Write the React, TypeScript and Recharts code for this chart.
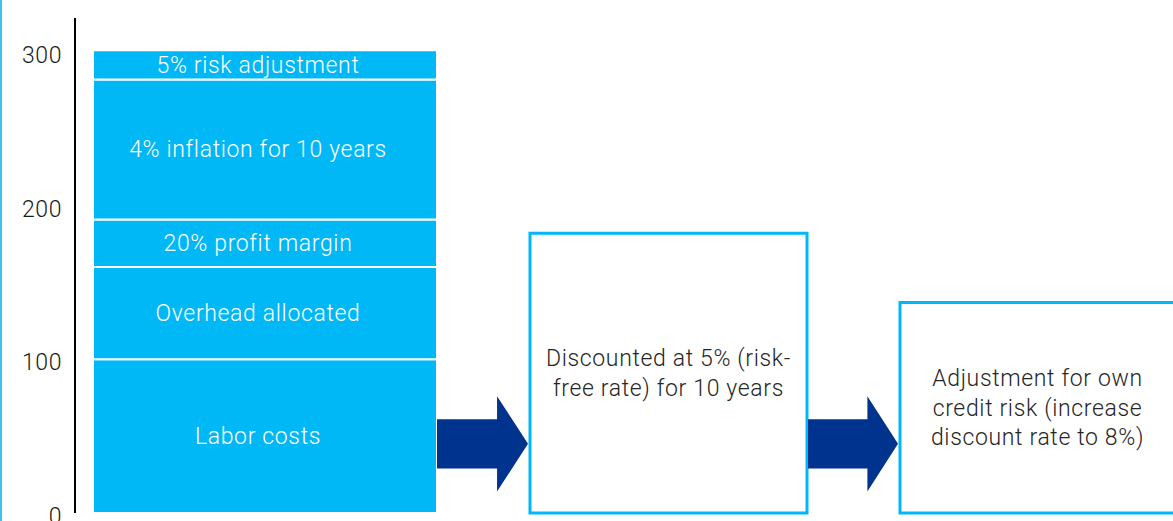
import React from "react";
import { ComposedChart, XAxis, YAxis, ReferenceArea } from "recharts";

// build-up of the liability (stacked first column)
const SEGMENT_NAMES = [
  "Labor costs",
  "Overhead allocated",
  "20% profit margin",
  "4% inflation for 10 years",
  "5% risk adjustment",
];
const SEGMENT_VALUES = [100, 60, 31, 91, 19];

// the two discounting steps
const STEP_LINES = [
  ["Discounted at 5% (risk-", "free rate) for 10 years"],
  ["Adjustment for own", "credit risk (increase", "discount rate to 8%)"],
];
const STEP_VALUES = [182, 137];

const Y_TICKS = [0, 100, 200, 300];

// layout on the hidden x axis (plot units)
const COLUMN_X: [number, number][] = [
  [18, 362],
  [455, 732],
  [825, 1100],
];
const ARROW_X: [number, number][] = [
  [362, 453],
  [733, 823],
];
const ARROW_Y: [number, number] = [14, 76];

const LIGHT = "#00B8F5";
const DARK = "#00338D";
const FONT = "Roboto, 'Open Sans', sans-serif";

const tops = SEGMENT_VALUES.reduce<number[]>((acc, v) => {
  acc.push((acc.length ? acc[acc.length - 1] : 0) + v);
  return acc;
}, []);

const CenterText = ({ viewBox, lines, color, dx = 0 }: any) => {
  const { x, y, width, height } = viewBox;
  const cx = x + width / 2 + dx;
  const cy = y + height / 2;
  const lh = 29.5;
  const start = cy - ((lines.length - 1) * lh) / 2;
  return (
    <text
      textAnchor="middle"
      fill={color}
      fontSize={23}
      fontWeight={300}
      fontFamily={FONT}
      letterSpacing={0.65}
    >
      {lines.map((l: string, i: number) => (
        <tspan key={i} x={cx} y={start + i * lh} dy="0.35em">
          {l}
        </tspan>
      ))}
    </text>
  );
};

const Arrow = (p: any) => {
  const { x, y, width, height } = p;
  const neck = x + width * 0.66;
  const cy = y + height / 2;
  const s = height * 0.258;
  const pts = [
    [x, cy - s],
    [neck, cy - s],
    [neck, y],
    [x + width, cy],
    [neck, y + height],
    [neck, cy + s],
    [x, cy + s],
  ]
    .map((q) => q.join(","))
    .join(" ");
  return <polygon points={pts} fill={DARK} />;
};

const YTick = ({ x, y, payload }: any) => (
  <text
    x={x}
    y={y + 3}
    dy="0.35em"
    textAnchor="end"
    fill="#1a1a1a"
    fontSize={23}
    fontWeight={300}
    fontFamily={FONT}
    letterSpacing={0.6}
  >
    {payload.value}
  </text>
);

export default function App() {
  return (
    <div style={{ position: "absolute", left: 0, top: 0, width: 1173, height: 521, overflow: "hidden", background: "#fff" }}>
      <div style={{ position: "absolute", left: 0, top: 0, width: 2, height: 521, background: "#3EC1F0" }} />
      <ComposedChart width={1180} height={521} margin={{ top: 18, right: 0, bottom: 8, left: 0 }}>
        <XAxis type="number" dataKey="x" domain={[0, 1105]} hide allowDataOverflow />
        <YAxis
          type="number"
          width={75}
          domain={[0, 322]}
          ticks={Y_TICKS}
          interval={0}
          allowDataOverflow
          tickLine={false}
          tickSize={0}
          tickMargin={13}
          axisLine={{ stroke: "#000", strokeWidth: 2 }}
          tick={<YTick />}
        />

        {SEGMENT_NAMES.map((name, i) => (
          <ReferenceArea
            key={name}
            x1={COLUMN_X[0][0]}
            x2={COLUMN_X[0][1]}
            y1={i === 0 ? 0 : tops[i - 1]}
            y2={tops[i]}
            fill={LIGHT}
            fillOpacity={1}
            stroke="#fff"
            strokeWidth={2}
            label={(p: any) => <CenterText {...p} lines={[name]} color="#fff" dx={-7} />}
          />
        ))}

        {STEP_VALUES.map((v, i) => (
          <ReferenceArea
            key={`step-${i}`}
            x1={COLUMN_X[i + 1][0]}
            x2={COLUMN_X[i + 1][1]}
            y1={0}
            y2={v}
            fill="#fff"
            fillOpacity={1}
            stroke={LIGHT}
            strokeWidth={3}
            label={(p: any) => <CenterText {...p} lines={STEP_LINES[i]} color="#262626" />}
          />
        ))}

        {ARROW_X.map((a, i) => (
          <ReferenceArea
            key={`arrow-${i}`}
            x1={a[0]}
            x2={a[1]}
            y1={ARROW_Y[0]}
            y2={ARROW_Y[1]}
            shape={<Arrow />}
          />
        ))}
      </ComposedChart>
    </div>
  );
}
